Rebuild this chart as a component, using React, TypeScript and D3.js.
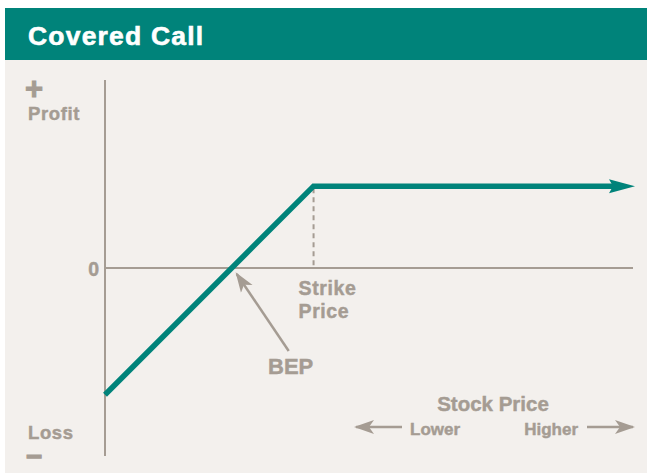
import { useRef, useEffect } from 'react';
import * as d3 from 'd3';

const stockPrice = [0, 39.5, 100];
const payoff = [-24, 15.5, 15.5];
const strike = 39.5;
const bep = 24;
const title = 'Covered Call';

const TEAL = '#00837a';
const GREY = '#a59c93';
const BG = '#f3f0ed';
const FONT = '"Liberation Sans", Arial, sans-serif';

export default function App() {
  const svgRef = useRef<SVGSVGElement>(null);

  useEffect(() => {
    const svg = d3.select(svgRef.current);
    svg.selectAll('*').remove();

    const W = 647, H = 474;
    svg.attr('width', W).attr('height', H);

    svg.append('rect').attr('width', W).attr('height', H).attr('fill', '#fff');
    svg.append('rect').attr('x', 5).attr('y', 60).attr('width', W - 5).attr('height', 413).attr('fill', BG);
    svg.append('rect').attr('x', 5).attr('y', 8).attr('width', W - 5).attr('height', 52).attr('fill', TEAL);
    svg.append('text')
      .attr('x', 28).attr('y', 45)
      .attr('fill', '#fff')
      .attr('stroke', '#fff').attr('stroke-width', 0.6)
      .attr('font-family', FONT)
      .attr('font-weight', 700)
      .attr('font-size', 26.5)
      .attr('letter-spacing', 1.2)
      .text(title);

    const x = d3.scaleLinear().domain([0, 100]).range([105, 633]);
    const y = d3.scaleLinear().domain([-35.6, 35.6]).range([456, 80]);

    const defs = svg.append('defs');
    defs.append('marker')
      .attr('id', 'greyArrow')
      .attr('viewBox', '0 0 10 10')
      .attr('refX', 9).attr('refY', 5)
      .attr('markerWidth', 8).attr('markerHeight', 8)
      .attr('markerUnits', 'strokeWidth')
      .attr('orient', 'auto-start-reverse')
      .append('path').attr('d', 'M0,1.5 L10,5 L0,8.5 L2.5,5 Z').attr('fill', GREY);

    // axes
    svg.append('line')
      .attr('x1', x(0)).attr('x2', x(0))
      .attr('y1', y(35.6)).attr('y2', y(-35.6))
      .attr('stroke', GREY).attr('stroke-width', 2);
    svg.append('line')
      .attr('x1', x(0)).attr('x2', x(100))
      .attr('y1', y(0)).attr('y2', y(0))
      .attr('stroke', GREY).attr('stroke-width', 2);

    // strike dashed
    svg.append('line')
      .attr('x1', x(strike)).attr('x2', x(strike))
      .attr('y1', y(payoff[1]) + 2).attr('y2', y(0))
      .attr('stroke', GREY).attr('stroke-width', 2)
      .attr('stroke-dasharray', '5,4');

    // payoff line
    const pts: [number, number][] = stockPrice.map((p, i) => [x(p), y(payoff[i])]);
    const endX = pts[2][0];
    pts[2] = [endX - 12, pts[2][1]];
    const line = d3.line();
    svg.append('path')
      .attr('d', line(pts))
      .attr('fill', 'none')
      .attr('stroke', TEAL)
      .attr('stroke-width', 5.5)
      .attr('stroke-linejoin', 'miter');
    const ay = y(payoff[2]);
    svg.append('path')
      .attr('d', `M${endX + 2},${ay} L${endX - 24},${ay - 7} L${endX - 20},${ay} L${endX - 24},${ay + 7} Z`)
      .attr('fill', TEAL);

    // BEP arrow
    svg.append('line')
      .attr('x1', x(bep) + 57).attr('y1', y(0) + 83)
      .attr('x2', x(bep) + 5).attr('y2', y(0) + 6)
      .attr('stroke', GREY).attr('stroke-width', 2.5)
      .attr('marker-end', 'url(#greyArrow)');

    const label = (tx: number, ty: number, s: string, size = 19, anchor = 'start', ls = 0.6) =>
      svg.append('text')
        .attr('x', tx).attr('y', ty)
        .attr('fill', GREY)
        .attr('stroke', GREY).attr('stroke-width', 0.45)
        .attr('font-family', FONT)
        .attr('font-weight', 700)
        .attr('font-size', size)
        .attr('letter-spacing', ls)
        .attr('text-anchor', anchor)
        .text(s);

    label(25, 99, '+', 31, 'start', 0).attr('stroke-width', 1);
    label(28, 120, 'Profit', 18.5);
    label(99, 276, '0', 19.5, 'end', 0);
    label(x(strike) - 15, 295, 'Strike', 19.5);
    label(x(strike) - 15, 318, 'Price', 19.5);
    label(268, 374, 'BEP', 22, 'start', 0);
    label(28, 439, 'Loss', 18.5);
    label(26, 466, '−', 28, 'start', 0).attr('stroke-width', 1.2);
    label(493, 411, 'Stock Price', 20.5, 'middle', 0);
    label(410, 435, 'Lower', 17, 'start', 0);
    label(578, 435, 'Higher', 17, 'end', 0);

    // lower / higher arrows
    svg.append('line')
      .attr('x1', 402).attr('x2', 356).attr('y1', 427).attr('y2', 427)
      .attr('stroke', GREY).attr('stroke-width', 2.5)
      .attr('marker-end', 'url(#greyArrow)');
    svg.append('line')
      .attr('x1', 587).attr('x2', 633).attr('y1', 427).attr('y2', 427)
      .attr('stroke', GREY).attr('stroke-width', 2.5)
      .attr('marker-end', 'url(#greyArrow)');
  }, []);

  return (
    <div style={{ position: 'absolute', left: 0, top: 0 }}>
      <svg ref={svgRef} style={{ display: 'block' }} />
    </div>
  );
}
